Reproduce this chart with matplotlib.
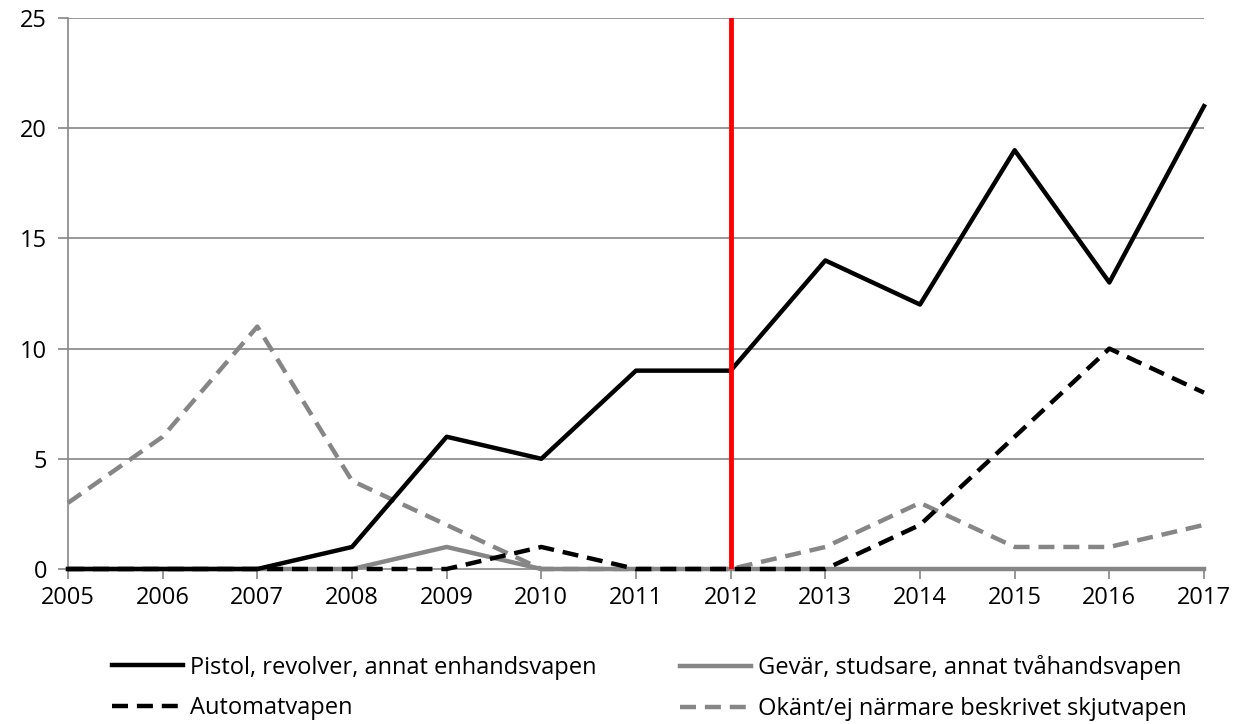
import matplotlib
matplotlib.use("Agg")
import matplotlib.pyplot as plt

years = [2005, 2006, 2007, 2008, 2009, 2010, 2011, 2012, 2013, 2014, 2015, 2016, 2017]
pistol = [0, 0, 0, 1, 6, 5, 9, 9, 14, 12, 19, 13, 21]
gevar = [0, 0, 0, 0, 1, 0, 0, 0, 0, 0, 0, 0, 0]
automat = [0, 0, 0, 0, 0, 1, 0, 0, 0, 2, 6, 10, 8]
okant = [3, 6, 11, 4, 2, 0, 0, 0, 1, 3, 1, 1, 2]
marker_year = 2012
yticks = [0, 5, 10, 15, 20, 25]

plt.rcParams['font.family'] = ['Open Sans', 'DejaVu Sans']
fig = plt.figure(figsize=(12.36, 7.24), dpi=100)
ax = fig.add_axes([68/1236, 1 - 569/724, (1204 - 68)/1236, (569 - 18)/724])

gray = '#868686'
for y in yticks[1:]:
    ax.axhline(y, color=gray, lw=1.2, zorder=0)

dash = (0, (3.6, 2.0))
l1, = ax.plot(years, pistol, color='black', lw=3.2, label='Pistol, revolver, annat enhandsvapen', zorder=4, clip_on=False)
l2, = ax.plot(years, gevar, color=gray, lw=3.2, label='Gevär, studsare, annat tvåhandsvapen', zorder=3, clip_on=False)
l3, = ax.plot(years, automat, color='black', lw=3.2, ls=dash, label='Automatvapen', zorder=5, clip_on=False)
l4, = ax.plot(years, okant, color=gray, lw=3.2, ls=dash, label='Okänt/ej närmare beskrivet skjutvapen', zorder=3.5, clip_on=False)
ax.axvline(marker_year, color='#ff0000', lw=3.5, zorder=6)

ax.set_xlim(years[0], years[-1])
ax.set_ylim(0, 25)
ax.set_xticks(years)
ax.set_yticks(yticks)
ax.tick_params(axis='both', labelsize=17, color=gray, length=7, width=1.2, direction='out')
ax.tick_params(axis='x', pad=5)
ax.tick_params(axis='y', pad=8)
for s in ['top', 'right']:
    ax.spines[s].set_visible(False)
for s in ['left', 'bottom']:
    ax.spines[s].set_color(gray)
    ax.spines[s].set_linewidth(1.2)
    ax.spines[s].set_zorder(1)

common = dict(loc='center left', frameon=False, fontsize=17, handlelength=3.0,
              handletextpad=0.3, labelspacing=0.7, borderpad=0, borderaxespad=0)
leg1 = fig.legend(handles=[l1, l3], bbox_to_anchor=(112/1236, 1 - 688/724), **common)
leg2 = fig.legend(handles=[l2, l4], bbox_to_anchor=(680/1236, 1 - 688/724), **common)

fig.savefig('out.png', dpi=100)
